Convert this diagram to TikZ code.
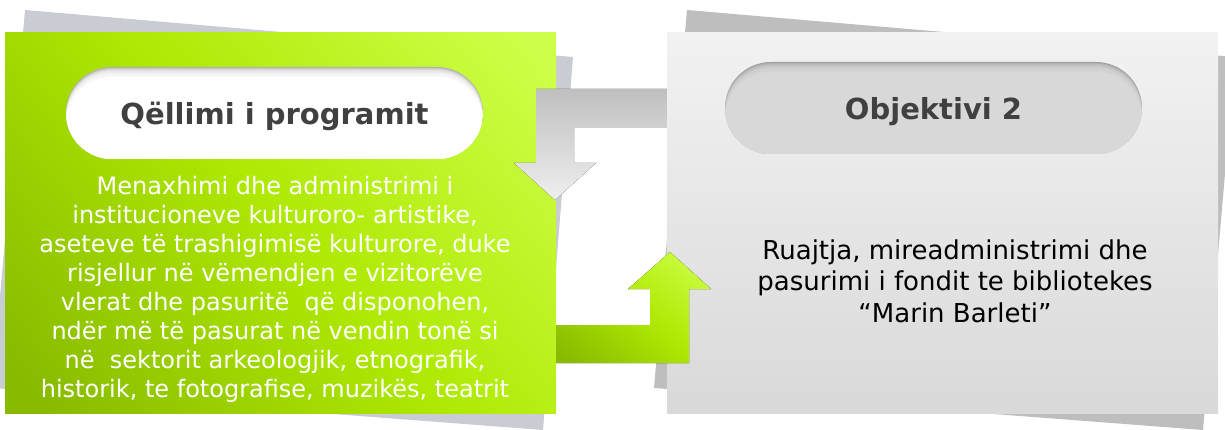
\documentclass[tikz,border=0pt]{standalone}
\usepackage{fontspec}
\setmainfont{DejaVu Sans}
\usetikzlibrary{shapes.misc,calc}
\definecolor{lshadow}{HTML}{C9CCD3}
\definecolor{rshadow}{HTML}{BEBEBE}
\definecolor{gTop}{HTML}{CEFF48}
\definecolor{gMid}{HTML}{AEE802}
\definecolor{gBot}{HTML}{88BA00}
\definecolor{pTop}{HTML}{F2F2F2}
\definecolor{pBot}{HTML}{D9D9D9}
\definecolor{aTop}{HTML}{BFBFBF}
\definecolor{aBot}{HTML}{EFEFEF}
\definecolor{titlegray}{HTML}{404040}
\definecolor{pillgray}{HTML}{D8D8D8}
\definecolor{rimwhite}{HTML}{B0B0B0}
\definecolor{rimgray}{HTML}{A0A0A0}
\pgfdeclareverticalshading{greenpanel}{100bp}{color(0bp)=(gBot); color(18bp)=(gBot);
  color(50bp)=(gMid); color(82bp)=(gTop); color(100bp)=(gTop)}
\tikzset{
  panel/.style={rectangle, minimum width=551pt, minimum height=380pt, inner sep=0pt, draw=none},
  pill/.style={rounded rectangle, minimum width=417pt, minimum height=92pt, inner sep=0pt,
    text height=23pt, text depth=0pt, text=titlegray,
    font=\fontsize{29}{35}\selectfont\bfseries},
  innershadow/.style 2 args={fill=#2, path picture={
    \foreach \k in {1,...,9}{
      \fill[#1, opacity=0.28, rounded corners=46pt]
        ([yshift=-\k pt]path picture bounding box.north west) rectangle
        ([yshift=-\k pt]path picture bounding box.south east);}
    \fill[#1, rounded corners=46pt]
        ([yshift=-10pt]path picture bounding box.north west) rectangle
        ([yshift=-10pt]path picture bounding box.south east);
  }},
  bodytext/.style={align=center, inner sep=0pt}
}
\begin{document}
\begin{tikzpicture}[x=1pt,y=-1pt]
\useasboundingbox (0,0) rectangle (1225,430);
\clip (0,0) rectangle (1225,430);
% shadow sheets
\fill[lshadow] (25,10) -- (573,57) -- (543,430) -- (-8,388) -- cycle;
\fill[rshadow] (687,10) -- (1235,57) -- (1203,430) -- (654,388) -- cycle;
% left panel
\node[panel, shading=greenpanel, shading angle=-50] (goal) at (280.5,223) {};
% gray arrow (from right panel back to left)
\fill[top color=aTop, bottom color=aBot]
  (667,89) -- (536,89) -- (536,163) -- (514,163) -- (555,200) -- (596,163)
  -- (574,163) -- (574,128) -- (667,128) -- cycle;
% right panel
\node[panel, top color=pTop, bottom color=pBot] (obj) at (942.5,223) {};
% green arrow (from left panel to right)
\fill[shading=greenpanel, shading angle=-40]
  (goal.east |- 0,325) -- (650,325) -- (650,289) -- (628,289) -- (670,252) -- (711,289)
  -- (689,289) -- (689,363) -- (goal.east |- 0,363) -- cycle;
% title pills
\node[pill, innershadow={white}{rimwhite}] (goaltitle) at (274.5,113) {Qëllimi i programit};
\node[pill, innershadow={pillgray}{rimgray}] (objtitle) at (933.5,108) {Objektivi 2};
% body texts
\node[bodytext, text=white, font=\fontsize{24}{29}\selectfont] (goaltext) at (275,289.5)
  {Menaxhimi dhe administrimi i\\
   institucioneve kulturoro- artistike,\\
   aseteve të trashigimisë kulturore, duke\\
   risjellur në vëmendjen e vizitorëve\\
   vlerat dhe pasuritë \ që disponohen,\\
   ndër më të pasurat në vendin tonë si\\
   në \ sektorit arkeologjik, etnografik,\\
   historik, te fotografise, muzikës, teatrit};
\node[bodytext, text=black, font=\fontsize{26}{31.5}\selectfont] (objtext) at (955,281)
  {Ruajtja, mireadministrimi dhe\\
   pasurimi i fondit te bibliotekes\\
   “Marin Barleti”};
\end{tikzpicture}
\end{document}
